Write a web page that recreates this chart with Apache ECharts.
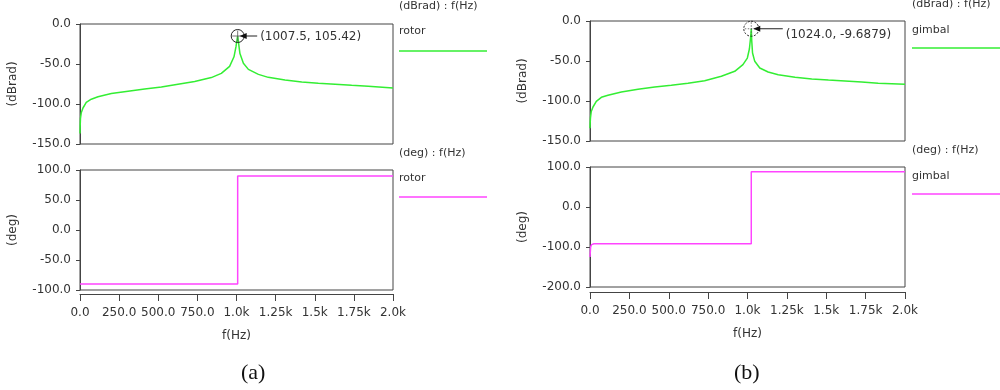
<!DOCTYPE html>
<html>
<head>
<meta charset="utf-8">
<script src="https://cdn.jsdelivr.net/npm/echarts@6/dist/echarts.min.js"></script>
<style>
html,body{margin:0;padding:0;background:#fff;}
#c{width:1000px;height:390px;}
</style>
</head>
<body>
<div id="c"></div>
<script>
// ---- data ----
var xTickValues = [0, 250, 500, 750, 1000, 1250, 1500, 1750, 2000];
var xTickLabels = ['0.0', '250.0', '500.0', '750.0', '1.0k', '1.25k', '1.5k', '1.75k', '2.0k'];

// (a) rotor magnitude, [f(Hz), dBrad]
var magRotor = [
  [0, -137], [1, -128], [3, -118], [8, -111], [19, -105], [40, -98], [72, -94],
  [115, -91], [200, -87], [307, -84], [413, -81.3], [520, -78.8], [626, -75.4],
  [733, -72], [839, -67], [903, -61.7], [956, -53], [984, -41], [997, -28],
  [1003, -20], [1007.5, -15], [1012, -22], [1022, -37], [1044, -49], [1076, -56.7],
  [1140, -63], [1203, -66.7], [1310, -70], [1417, -72.5], [1523, -74.2],
  [1630, -75.4], [1736, -76.7], [1842, -77.9], [2000, -80]
];
// (a) rotor phase, [f(Hz), deg]
var phaseRotor = [[0, -90], [1007.5, -90], [1007.5, 90], [2000, 90]];

// (b) gimbal magnitude
var magGimbal = [
  [0, -134], [1, -128], [3, -121], [8, -113], [19, -107.5], [40, -100.4], [72, -95.4],
  [114, -92.9], [199, -88.8], [305, -85.4], [411, -82.5], [516, -80.4], [622, -77.9],
  [728, -74.6], [834, -69.1], [919, -62.9], [971, -54.6], [999, -46.3], [1012, -35],
  [1020, -20], [1024, -9.6879], [1027, -25], [1032, -40], [1046, -50.4], [1078, -58.8],
  [1131, -63.8], [1195, -67.1], [1302, -70.4], [1408, -72.5], [1514, -73.8],
  [1619, -75], [1725, -76.3], [1830, -77.9], [2000, -79.2]
];
// (b) gimbal phase
var phaseGimbal = [[0, -125], [4, -100], [10, -94], [25, -92], [1024, -92], [1024, 88], [2000, 88]];

// peak markers
var markerRotor = [[1007.5, -15]];
var markerRotorText = '(1007.5, 105.42)';
var markerGimbal = [[1024, -9.6879]];
var markerGimbalText = '(1024.0, -9.6879)';

var seriesNames = ['rotor', 'gimbal'];
var magUnit = '(dBrad)';
var phaseUnit = '(deg)';
var xName = 'f(Hz)';
var captions = ['(a)', '(b)'];

// ---- styling ----
var FONT = 'DejaVu Sans';
var TXT = '#333';
var GREEN = '#33ee33';
var PINK = '#ff44ff';
var AXIS = '#444';

function yAxisCfg(gi, min, max, interval, name, gap) {
  return {
    type: 'value', gridIndex: gi, min: min, max: max, interval: interval,
    offset: 3,
    name: name, nameLocation: 'middle', nameGap: gap, nameRotate: 90,
    nameTextStyle: {fontFamily: FONT, fontSize: 12, color: TXT},
    axisLine: {show: true, lineStyle: {color: AXIS, width: 1}},
    axisTick: {show: true, inside: false, length: 4, lineStyle: {color: AXIS}},
    axisLabel: {margin: 6, fontFamily: FONT, fontSize: 12, color: TXT,
      formatter: function (v) { return v.toFixed(1); }},
    splitLine: {show: false}
  };
}
function xAxisCfg(gi, shown, off) {
  return {
    type: 'value', gridIndex: gi, min: 0, max: 2000, interval: 250,
    show: shown, offset: off,
    name: shown ? xName : '', nameLocation: 'middle', nameGap: 36,
    nameTextStyle: {fontFamily: FONT, fontSize: 12, color: TXT},
    axisLine: {show: true, onZero: false, lineStyle: {color: AXIS, width: 1}},
    axisTick: {show: true, length: 7, lineStyle: {color: AXIS}},
    axisLabel: {margin: 13, fontFamily: FONT, fontSize: 12, color: TXT,
      formatter: function (v) { return xTickLabels[xTickValues.indexOf(v)]; }},
    splitLine: {show: false}
  };
}
function annot(text, r, dashed, textDy, armLen) {
  return function (params, api) {
    var p = api.coord([api.value(0), api.value(1)]);
    var cx = p[0], cy = p[1];
    return {
      type: 'group',
      children: [
        {type: 'circle', shape: {cx: cx, cy: cy, r: r},
          style: {fill: null, stroke: '#222', lineWidth: 1, lineDash: dashed ? [2, 1.5] : null}},
        {type: 'line', shape: {x1: cx - r + 1, y1: cy, x2: cx + r - 1, y2: cy},
          style: {stroke: '#555', lineWidth: 0.8, lineDash: dashed ? [1.5, 1.5] : null}},
        {type: 'line', shape: {x1: cx, y1: cy - r + 1, x2: cx, y2: cy + r - 1},
          style: {stroke: '#555', lineWidth: 0.8, lineDash: dashed ? [1.5, 1.5] : null}},
        {type: 'line', shape: {x1: cx + 6, y1: cy, x2: cx + r + armLen, y2: cy},
          style: {stroke: '#222', lineWidth: 1}},
        {type: 'polygon', shape: {points: [[cx + 2, cy], [cx + 9, cy - 3], [cx + 9, cy + 3]]},
          style: {fill: '#111'}},
        {type: 'text', x: cx + r + armLen + 3, y: cy + textDy,
          style: {text: text, fontFamily: FONT, fontSize: 12, fill: TXT,
            verticalAlign: 'middle', align: 'left'}}
      ]
    };
  };
}

function legendBlock(x, yTitle, title, yName, name, yLine, color, w) {
  return [
    {type: 'text', left: x, top: yTitle - 7,
      style: {text: title, fontFamily: FONT, fontSize: 11, fill: TXT}},
    {type: 'text', left: x, top: yName - 7,
      style: {text: name, fontFamily: FONT, fontSize: 11, fill: TXT}},
    {type: 'line', shape: {x1: x, y1: yLine, x2: x + w, y2: yLine},
      style: {stroke: color, lineWidth: 1.5}}
  ];
}

var chart = echarts.init(document.getElementById('c'), null, {renderer: 'canvas'});
var graphics = []
  .concat(legendBlock(399, 8, magUnit + ' : ' + xName, 33, seriesNames[0], 51, GREEN, 88))
  .concat(legendBlock(399, 155, phaseUnit + ' : ' + xName, 180, seriesNames[0], 197, PINK, 88))
  .concat(legendBlock(912, 6, magUnit + ' : ' + xName, 32, seriesNames[1], 48, GREEN, 88))
  .concat(legendBlock(912, 152, phaseUnit + ' : ' + xName, 178, seriesNames[1], 194, PINK, 88))
  .concat([
    {type: 'text', left: 241, top: 362,
      style: {text: captions[0], fontFamily: 'Liberation Serif', fontSize: 22, fill: '#111'}},
    {type: 'text', left: 734, top: 362,
      style: {text: captions[1], fontFamily: 'Liberation Serif', fontSize: 22, fill: '#111'}}
  ]);

var gridStyle = {show: true, borderColor: AXIS, borderWidth: 1, backgroundColor: 'transparent'};
var option = {
  animation: false,
  backgroundColor: '#fff',
  grid: [
    Object.assign({left: 80, top: 24, width: 313, height: 120}, gridStyle),
    Object.assign({left: 80, top: 170, width: 313, height: 120}, gridStyle),
    Object.assign({left: 590, top: 21, width: 315, height: 120}, gridStyle),
    Object.assign({left: 590, top: 167, width: 315, height: 120}, gridStyle)
  ],
  xAxis: [xAxisCfg(0, false, 0), xAxisCfg(1, true, 4), xAxisCfg(2, false, 0), xAxisCfg(3, true, 5)],
  yAxis: [
    yAxisCfg(0, -150, 0, 50, magUnit, 58),
    yAxisCfg(1, -100, 100, 50, phaseUnit, 58),
    yAxisCfg(2, -150, 0, 50, magUnit, 58),
    yAxisCfg(3, -200, 100, 100, phaseUnit, 58)
  ],
  graphic: graphics,
  series: [
    {type: 'line', name: seriesNames[0], xAxisIndex: 0, yAxisIndex: 0, data: magRotor,
      showSymbol: false, lineStyle: {color: GREEN, width: 1.5}},
    {type: 'line', name: seriesNames[0], xAxisIndex: 1, yAxisIndex: 1, data: phaseRotor,
      showSymbol: false, lineStyle: {color: PINK, width: 1.5}},
    {type: 'line', name: seriesNames[1], xAxisIndex: 2, yAxisIndex: 2, data: magGimbal,
      showSymbol: false, lineStyle: {color: GREEN, width: 1.5}},
    {type: 'line', name: seriesNames[1], xAxisIndex: 3, yAxisIndex: 3, data: phaseGimbal,
      showSymbol: false, lineStyle: {color: PINK, width: 1.5}},
    {type: 'custom', xAxisIndex: 0, yAxisIndex: 0, data: markerRotor, clip: false, z: 10,
      renderItem: annot(markerRotorText, 6.5, false, 1, 13)},
    {type: 'custom', xAxisIndex: 2, yAxisIndex: 2, data: markerGimbal, clip: false, z: 10,
      renderItem: annot(markerGimbalText, 7.5, true, 6, 24)}
  ]
};
chart.setOption(option);
</script>
</body>
</html>
